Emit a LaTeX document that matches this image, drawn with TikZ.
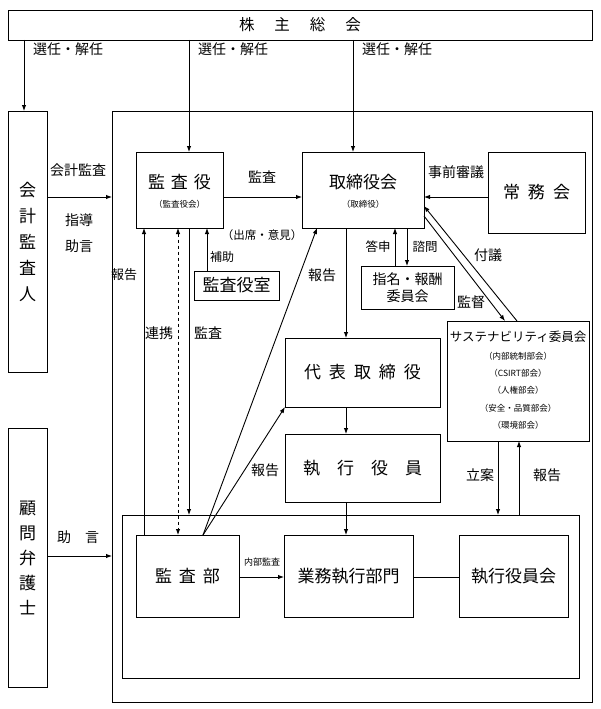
\documentclass[tikz,border=0pt]{standalone}
\usepackage{fontspec}
\setmainfont{Noto Sans CJK JP}
\usetikzlibrary{arrows.meta}
\begin{document}
\begin{tikzpicture}[x=1pt,y=-1pt,
  bx/.style={draw, line width=0.9pt, inner sep=0pt, outer sep=0pt, align=center},
  lb/.style={inner sep=0pt, font=\fontsize{14}{16}\selectfont},
  sm/.style={inner sep=0pt, font=\fontsize{8.5}{10}\selectfont},
  big/.style={font=\fontsize{17}{20}\selectfont},
  ar/.style={line width=0.9pt, -{Latex[length=6pt,width=4.5pt]}},
  dar/.style={line width=0.9pt, dashed, {Latex[length=6pt,width=4.5pt]}-{Latex[length=6pt,width=4.5pt]}},
  ln/.style={line width=0.9pt}]
\useasboundingbox (0,0) rectangle (600,709);
% boxes
\node[bx, minimum width=584pt, minimum height=30pt, font=\fontsize{15.5}{18}\selectfont] (sh) at (300,25) {株\hspace{20pt}主\hspace{20pt}総\hspace{20pt}会};
\node[bx, minimum width=39pt, minimum height=261pt, font=\fontsize{17}{26}\selectfont] (kaikei) at (27.5,241.5) {会\\計\\監\\査\\人};
\node[bx, minimum width=39pt, minimum height=259pt, font=\fontsize{17}{25}\selectfont] (komon) at (27.5,557.5) {顧\\問\\弁\\護\\士};
\node[bx, minimum width=480pt, minimum height=591pt] (main) at (352,406.5) {};
\node[bx, minimum width=87pt, minimum height=76pt] (kansayaku) at (179.5,190) {};
\node[big, inner sep=0pt] (kyt) at (179.5,182) {監\hspace{6pt}査\hspace{6pt}役};
\node[sm] (kys) at (179.5,204) {（監査役会）};
\node[bx, minimum width=122pt, minimum height=76pt] (tori) at (363,190) {};
\node[big, inner sep=0pt] (trt) at (363,182) {取締役会};
\node[sm] (trs) at (363,204) {（取締役）};
\node[bx, minimum width=97pt, minimum height=81pt, big] (jomu) at (536.5,192.5) {常\hspace{8pt}務\hspace{8pt}会};
\node[bx, minimum width=85pt, minimum height=29pt, big] (shitsu) at (236.5,285.5) {監査役室};
\node[bx, minimum width=93pt, minimum height=43pt, font=\fontsize{14}{17}\selectfont] (shimei) at (407.5,287.5) {指名・報酬\\委員会};
\node[bx, minimum width=142pt, minimum height=120pt] (sus) at (518,381) {};
\node[inner sep=0pt, font=\fontsize{12.5}{14}\selectfont] (sust) at (518,337) {サステナビリティ委員会};
\node[sm] (sus1) at (518,356) {（内部統制部会）};
\node[sm] (sus2) at (518,373) {（CSIRT部会）};
\node[sm] (sus3) at (518,390) {（人権部会）};
\node[sm] (sus4) at (518,408) {（安全・品質部会）};
\node[sm] (sus5) at (518,425) {（環境部会）};
\node[bx, minimum width=155pt, minimum height=69pt, big] (daihyo) at (362.5,372.5) {代\hspace{8pt}表\hspace{8pt}取\hspace{8pt}締\hspace{8pt}役};
\node[bx, minimum width=155pt, minimum height=68pt, big] (shikko) at (362.5,468) {執\hspace{17pt}行\hspace{17pt}役\hspace{17pt}員};
\node[bx, minimum width=457pt, minimum height=163pt] (inner) at (350.5,596.5) {};
\node[bx, minimum width=103pt, minimum height=82pt, big] (kansabu) at (187.5,576) {監\hspace{7pt}査\hspace{7pt}部};
\node[bx, minimum width=129pt, minimum height=82pt, big] (gyomu) at (348.5,576) {業務執行部門};
\node[bx, minimum width=109pt, minimum height=82pt, big] (kaigi) at (513.5,576) {執行役員会};
% labels
\node[lb, anchor=west] (s1) at (33,49) {選任・解任};
\node[lb, anchor=west] (s2) at (198,49) {選任・解任};
\node[lb, anchor=west] (s3) at (362,49) {選任・解任};
\node[lb] (l1) at (78,170) {会計監査};
\node[lb] (l2) at (79,220) {指導};
\node[lb] (l3) at (79,246) {助言};
\node[lb] (l4) at (262,177) {監査};
\node[inner sep=0pt, font=\fontsize{11.5}{13}\selectfont] (l5) at (262,235) {（出席・意見）};
\node[lb] (l6) at (456,172) {事前審議};
\node[inner sep=0pt, font=\fontsize{12.5}{14}\selectfont] (l7) at (378,247) {答申};
\node[inner sep=0pt, font=\fontsize{12.5}{14}\selectfont] (l8) at (425,247) {諮問};
\node[lb] (l9) at (488,255) {付議};
\node[lb] (l10) at (471,302) {監督};
\node[lb] (l11) at (322,275) {報告};
\node[inner sep=0pt, font=\fontsize{13}{15}\selectfont] (l12) at (124,275) {報告};
\node[inner sep=0pt, font=\fontsize{12}{14}\selectfont] (l13) at (222,257) {補助};
\node[lb] (l14) at (159,333) {連携};
\node[lb] (l15) at (208,333) {監査};
\node[lb] (l16) at (265,470) {報告};
\node[lb] (l17) at (480,475) {立案};
\node[lb] (l18) at (547,475) {報告};
\node[inner sep=0pt, font=\fontsize{9}{11}\selectfont] (l19) at (262,562) {内部監査};
\node[lb] (l20) at (78,537) {助\hspace{14pt}言};
% connectors
\draw[ar] (sh.south -| 24,0) -- (kaikei.north -| 24,0);
\draw[ar] (sh.south -| 189,0) -- (kansayaku.north -| 189,0);
\draw[ar] (sh.south -| 353,0) -- (tori.north -| 353,0);
\draw[ar] (kaikei.east |- 0,197) -- (main.west |- 0,197);
\draw[ar] (komon.east |- 0,556) -- (main.west |- 0,556);
\draw[ar] (kansayaku.east |- 0,197) -- (tori.west |- 0,197);
\draw[ar] (jomu.west |- 0,197) -- (tori.east |- 0,197);
\draw[ar] (sus.north -| 517,0) -- (tori.east |- 0,206);
\draw[ar] (tori.east |- 0,216) -- (sus.north -| 505,0);
\draw[ar] (shimei.north -| 395,0) -- (tori.south -| 395,0);
\draw[ar] (tori.south -| 407,0) -- (shimei.north -| 407,0);
\draw[ar] (tori.south -| 346,0) -- (daihyo.north -| 346,0);
\draw[ar] (daihyo.south -| 346,0) -- (shikko.north -| 346,0);
\draw[ar] (shikko.south -| 346,0) -- (gyomu.north -| 346,0);
\draw[ar] (kansabu.east |- 0,577) -- (gyomu.west |- 0,577);
\draw[ln] (gyomu.east |- 0,577) -- (kaigi.west |- 0,577);
\draw[ar] (sus.south -| 498,0) -- (inner.north -| 498,0);
\draw[ar] (inner.north -| 519,0) -- (sus.south -| 519,0);
\draw[ar] (kansabu.north -| 144,0) -- (kansayaku.south -| 144,0);
\draw[dar] (kansayaku.south -| 178,0) -- (kansabu.north -| 178,0);
\draw[ar] (kansayaku.south -| 189,0) -- (inner.north -| 189,0);
\draw[ar] (shitsu.north -| 207,0) -- (kansayaku.south -| 207,0);
\draw[ar] (kansabu.north -| 203,0) -- (tori.south -| 317,0);
\draw[ar] (kansabu.north -| 203,0) -- (daihyo.south west);
\end{tikzpicture}
\end{document}
